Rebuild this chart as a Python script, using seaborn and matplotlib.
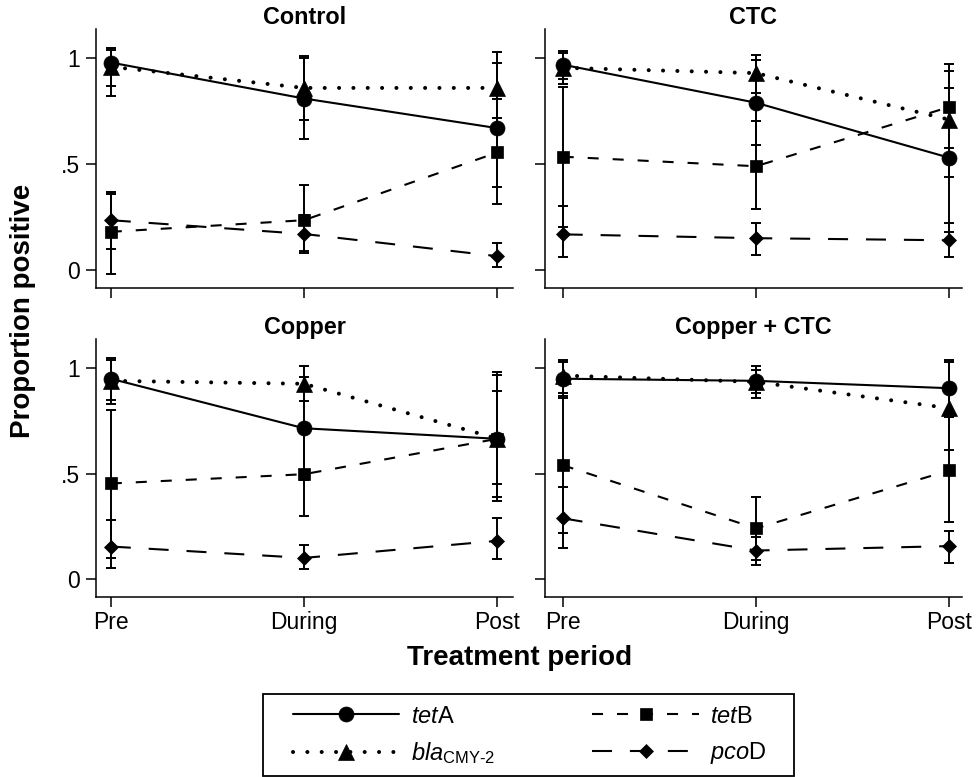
import numpy as np
import pandas as pd
import matplotlib
matplotlib.use("Agg")
import matplotlib.pyplot as plt
from matplotlib.patches import Rectangle
import seaborn as sns

# ---------------- data ----------------
periods = ["Pre", "During", "Post"]
treatments = ["Control", "CTC", "Copper", "Copper + CTC"]
genes = ["tetA", "tetB", "bla", "pcoD"]

# means per treatment (Control, CTC, Copper, Copper + CTC) x period (Pre, During, Post)
tetA_mean = [[0.98, 0.81, 0.67], [0.97, 0.79, 0.53], [0.95, 0.715, 0.665], [0.95, 0.94, 0.905]]
tetA_lo   = [[0.82, 0.62, 0.39], [0.90, 0.59, 0.18], [0.85, 0.47, 0.37], [0.86, 0.86, 0.77]]
tetA_hi   = [[1.05, 1.01, 0.98], [1.036, 0.99, 0.86], [1.05, 0.96, 0.97], [1.04, 1.01, 1.04]]

tetB_mean = [[0.18, 0.235, 0.555], [0.535, 0.49, 0.77], [0.453, 0.497, 0.665], [0.54, 0.24, 0.515]]
tetB_lo   = [[-0.02, 0.08, 0.31], [0.205, 0.29, 0.575], [0.10, 0.30, 0.39], [0.22, 0.09, 0.27]]
tetB_hi   = [[0.36, 0.40, 0.81], [0.865, 0.705, 0.975], [0.80, 0.70, 0.98], [0.87, 0.39, 0.77]]

bla_mean  = [[0.96, 0.86, 0.86], [0.955, 0.93, 0.71], [0.94, 0.926, 0.666], [0.965, 0.935, 0.81]]
bla_lo    = [[0.87, 0.71, 0.72], [0.88, 0.835, 0.44], [0.83, 0.845, 0.45], [0.88, 0.88, 0.61]]
bla_hi    = [[1.04, 1.00, 1.03], [1.023, 1.015, 0.94], [1.04, 1.01, 0.89], [1.03, 0.99, 1.03]]

pcoD_mean = [[0.235, 0.17, 0.065], [0.168, 0.15, 0.14], [0.154, 0.10, 0.181], [0.288, 0.135, 0.156]]
pcoD_lo   = [[0.10, 0.09, 0.013], [0.063, 0.07, 0.063], [0.05, 0.047, 0.094], [0.145, 0.068, 0.078]]
pcoD_hi   = [[0.37, 0.26, 0.125], [0.30, 0.22, 0.22], [0.28, 0.16, 0.29], [0.437, 0.20, 0.23]]

legend_labels = {
    "tetA": r"$\mathit{tet}$A",
    "tetB": r"$\mathit{tet}$B",
    "bla": r"$\mathit{bla}_{\mathrm{CMY\text{-}2}}$",
    "pcoD": r"$\mathit{pco}$D",
}

# ---------------- long table ----------------
series = {
    "tetA": (tetA_mean, tetA_lo, tetA_hi),
    "tetB": (tetB_mean, tetB_lo, tetB_hi),
    "bla": (bla_mean, bla_lo, bla_hi),
    "pcoD": (pcoD_mean, pcoD_lo, pcoD_hi),
}
rows = []
for g, (m, lo, hi) in series.items():
    for ti, t in enumerate(treatments):
        for pi, p in enumerate(periods):
            rows.append(dict(gene=g, treatment=t, period=p, x=pi,
                             value=m[ti][pi], lo=lo[ti][pi], hi=hi[ti][pi]))
df = pd.DataFrame(rows)

# ---------------- style ----------------
sns.set_style("ticks")
plt.rcParams["font.family"] = ["Liberation Sans", "DejaVu Sans"]
plt.rcParams["mathtext.fontset"] = "custom"
plt.rcParams["mathtext.rm"] = "Liberation Sans"
plt.rcParams["mathtext.it"] = "Liberation Sans:italic"
plt.rcParams["mathtext.bf"] = "Liberation Sans:bold"
for k in ("text.color", "axes.labelcolor", "xtick.color", "ytick.color",
          "axes.edgecolor", "xtick.labelcolor", "ytick.labelcolor"):
    plt.rcParams[k] = "black"

styles = {
    "tetA": dict(marker="o", markersize=10.8, linestyle="-", linewidth=1.5),
    "tetB": dict(marker="s", markersize=8.0, linestyle=(0, (5.3, 6.7)), linewidth=1.5),
    "bla": dict(marker="^", markersize=11.0, linestyle=(0, (0.01, 3.55)), linewidth=2.9,
                dash_capstyle="round"),
    "pcoD": dict(marker="D", markersize=7.6, linestyle=(0, (9.6, 8.6)), linewidth=1.5),
}
draw_order = ["tetB", "pcoD", "bla", "tetA"]

fig = plt.figure(figsize=(9.76, 7.77), dpi=100)
W, H = 976.0, 777.0
positions = {
    "Control": [96.3 / W, 1 - 287.7 / H, (513.3 - 96.3) / W, (287.7 - 29.3) / H],
    "CTC": [545.3 / W, 1 - 287.7 / H, (961.7 - 545.3) / W, (287.7 - 29.3) / H],
    "Copper": [96.3 / W, 1 - 596.7 / H, (513.3 - 96.3) / W, (596.7 - 339.3) / H],
    "Copper + CTC": [545.3 / W, 1 - 596.7 / H, (961.7 - 545.3) / W, (596.7 - 339.3) / H],
}
xlims = {"Control": (-0.075, 2.083), "CTC": (-0.09, 2.064),
         "Copper": (-0.075, 2.083), "Copper + CTC": (-0.09, 2.064)}

handles = {}
for t in treatments:
    ax = fig.add_axes(positions[t])
    sub = df[df.treatment == t]
    # error bars
    for g in draw_order:
        s = sub[sub.gene == g]
        ax.errorbar(s["x"], s["value"],
                    yerr=[s["value"] - s["lo"], s["hi"] - s["value"]],
                    fmt="none", ecolor="black", elinewidth=1.4, capsize=3.6,
                    capthick=1.4, zorder=2)
    for g in draw_order:
        s = sub[sub.gene == g]
        sns.lineplot(data=s, x="x", y="value", ax=ax, color="black",
                     markeredgecolor="black", markeredgewidth=0.5,
                     label=legend_labels[g], zorder=3, **styles[g])
    if ax.get_legend() is not None:
        ax.get_legend().remove()
    if t == "Control":
        hs, ls = ax.get_legend_handles_labels()
        handles = dict(zip(ls, hs))

    ax.set_xlim(*xlims[t])
    ax.set_ylim(-0.084, 1.137)
    ax.set_xticks([0, 1, 2])
    ax.set_yticks([0, 0.5, 1])
    ax.set_xlabel("")
    ax.set_ylabel("")
    if t in ("Copper", "Copper + CTC"):
        ax.set_xticklabels(periods)
    else:
        ax.set_xticklabels([])
    if t in ("Control", "Copper"):
        ax.set_yticklabels(["0", ".5", "1"])
    else:
        ax.set_yticklabels([])
    ax.tick_params(axis="both", direction="out", length=7, width=1.1,
                   labelsize=16.5, color="black", labelcolor="black")
    ax.tick_params(axis="y", pad=5)
    ax.tick_params(axis="x", pad=3)
    for side in ("top", "right"):
        ax.spines[side].set_visible(False)
    for side in ("left", "bottom"):
        ax.spines[side].set_linewidth(1.1)
        ax.spines[side].set_color("black")
    ax.set_title(t, fontsize=16.8, fontweight="bold", pad=1, color="black")

fig.text(23 / W, 1 - 311 / H, "Proportion positive", rotation=90, ha="center",
         va="center", fontsize=20, fontweight="bold", color="black")
fig.text(519.5 / W, 1 - 665 / H, "Treatment period", ha="center", va="baseline",
         fontsize=20, fontweight="bold", color="black")

# legend frame
fig.patches.append(Rectangle((263 / W, 1.5 / H), (794 - 263) / W, (775.5 - 694) / H,
                             transform=fig.transFigure, fill=False,
                             edgecolor="black", linewidth=1.3))
order = ["tetA", "bla", "tetB", "pcoD"]
leg = fig.legend([handles[legend_labels[g]] for g in order],
                 [legend_labels[g] for g in order],
                 ncol=2, loc="center", mode="expand",
                 bbox_to_anchor=(293 / W, 1 - 736 / H, (767 - 293) / W, 0),
                 frameon=False, borderpad=0, borderaxespad=0,
                 fontsize=17, handlelength=4.5, handletextpad=0.5,
                 labelspacing=0.55, numpoints=1)
for txt in leg.get_texts():
    txt.set_color("black")

fig.savefig("out.png", dpi=100)
